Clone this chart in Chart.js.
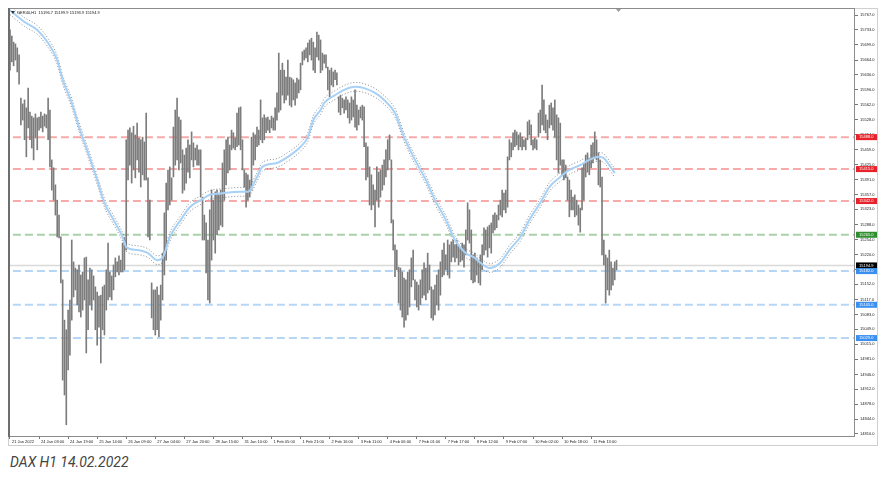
<!DOCTYPE html>
<html>
<head>
<meta charset="utf-8">
<script src="https://cdn.jsdelivr.net/npm/chart.js@4.4.1/dist/chart.umd.min.js"></script>
<style>
  html, body { margin: 0; padding: 0; background: #fff; }
  #wrap { position: absolute; left: 0; top: 0; width: 892px; height: 448px; }
  #caption { position: absolute; left: 10px; top: 454px; line-height: 16px;
             font: italic 14px Roboto, "Liberation Sans", sans-serif; color: #444; }
</style>
</head>
<body>
<div id="wrap"><canvas id="chart" width="892" height="448"></canvas></div>
<div id="caption">DAX H1 14.02.2022</div>
<script>
// H1 bars, oldest first (high / low)
const highs = [
  15733,15719,15705,15701,15692,15676,15577,15564,15573,15555,
  15600,15545,15536,15532,15541,15532,15534,15545,15536,15541,
  15539,15577,15550,15436,15418,15379,15344,15310,15260,15162,
  15070,15048,15093,15116,15253,15203,15189,15185,15196,15173,
  15180,15212,15214,15162,15189,15185,15171,15146,15134,15125,
  15127,15146,15150,15185,15246,15180,15171,15196,15212,15203,
  15217,15207,15246,15258,15482,15504,15509,15498,15513,15493,
  15520,15486,15482,15488,15477,15543,15395,15344,15155,15139,
  15139,15146,15127,15150,15223,15315,15383,15413,15420,15395,
  15511,15550,15577,15534,15527,15459,15447,15463,15482,15470,
  15500,15475,15463,15470,15459,15459,15351,15310,15292,15253,
  15322,15367,15344,15363,15367,15356,15367,15429,15459,15482,
  15488,15470,15504,15498,15486,15543,15555,15557,15482,15413,
  15406,15402,15390,15488,15498,15493,15511,15504,15573,15532,
  15539,15532,15534,15527,15536,15532,15555,15589,15680,15641,
  15657,15641,15625,15664,15625,15623,15619,15612,15623,15619,
  15657,15683,15687,15692,15703,15710,15714,15705,15692,15728,
  15721,15710,15680,15676,15676,15648,15641,15646,15637,15641,
  15635,15580,15584,15577,15573,15580,15573,15566,15580,15573,
  15596,15561,15550,15557,15561,15557,15475,15466,15420,15402,
  15379,15367,15420,15408,15413,15424,15436,15459,15482,15493,
  15436,15299,15242,15230,15191,15189,15180,15166,15162,15180,
  15185,15212,15230,15162,15157,15150,15162,15185,15201,15189,
  15223,15196,15146,15139,15150,15173,15185,15203,15230,15246,
  15219,15253,15242,15249,15253,15242,15253,15242,15235,15246,
  15242,15276,15338,15322,15276,15219,15223,15212,15207,15219,
  15242,15281,15276,15283,15287,15292,15310,15315,15310,15333,
  15344,15367,15360,15367,15443,15482,15475,15498,15504,15500,
  15493,15498,15488,15482,15486,15523,15527,15516,15482,15486,
  15482,15543,15550,15607,15573,15539,15527,15561,15566,15555,
  15573,15539,15532,15520,15436,15436,15424,15397,15390,15367,
  15351,15356,15344,15333,15326,15418,15429,15447,15452,15440,
  15470,15475,15500,15482,15452,15436,15397,15253,15219,15212,
  15230,15203,15189,15203,15207
];
const lows = [
  15641,15660,15651,15664,15637,15609,15516,15527,15482,15443,
  15509,15482,15463,15436,15486,15459,15504,15509,15500,15513,
  15509,15482,15420,15367,15344,15310,15260,15258,15155,14933,
  14899,14831,14956,14990,15070,15123,15139,15105,15089,15077,
  15093,15116,14995,15048,15105,15093,15116,15048,15013,15054,
  14972,15048,15036,15093,15116,15123,15116,15139,15169,15180,
  15173,15180,15180,15185,15230,15390,15424,15383,15413,15395,
  15436,15408,15374,15402,15390,15390,15260,15253,15075,15048,
  15036,15048,15032,15070,15116,15173,15207,15322,15333,15344,
  15397,15424,15436,15413,15429,15360,15367,15383,15408,15395,
  15436,15420,15436,15424,15424,15351,15253,15253,15178,15116,
  15109,15207,15253,15223,15265,15276,15287,15283,15344,15379,
  15406,15413,15459,15463,15459,15466,15470,15459,15413,15374,
  15328,15344,15351,15367,15424,15436,15466,15470,15482,15475,
  15482,15498,15504,15498,15509,15504,15504,15527,15545,15550,
  15584,15566,15573,15584,15561,15557,15573,15561,15577,15589,
  15596,15653,15664,15669,15660,15676,15664,15641,15635,15671,
  15664,15635,15641,15657,15646,15596,15580,15607,15603,15619,
  15607,15545,15539,15555,15543,15550,15532,15520,15527,15534,
  15511,15504,15516,15532,15527,15466,15390,15397,15333,15322,
  15333,15283,15344,15328,15351,15367,15379,15397,15413,15436,
  15292,15230,15169,15185,15109,15093,15077,15054,15070,15082,
  15100,15146,15162,15116,15100,15093,15105,15121,15127,15116,
  15132,15139,15075,15070,15082,15105,15093,15127,15169,15173,
  15185,15173,15166,15203,15214,15203,15212,15196,15203,15207,
  15191,15219,15253,15246,15162,15155,15157,15173,15155,15150,
  15185,15219,15230,15214,15235,15223,15269,15276,15281,15299,
  15310,15306,15322,15315,15328,15436,15443,15459,15466,15470,
  15459,15466,15459,15466,15459,15482,15493,15470,15459,15463,
  15459,15488,15498,15516,15504,15498,15482,15509,15516,15504,
  15488,15436,15406,15424,15402,15390,15395,15344,15306,15322,
  15322,15306,15310,15287,15271,15322,15344,15397,15408,15402,
  15418,15429,15440,15436,15379,15374,15219,15196,15109,15139,
  15127,15139,15150,15162,15185
];

// moving average envelope, read at these bar indices
const maIdx = [0,8,15,21,26,29,34,38,43,48,52,57,62,64,70,76,81,84,88,94,
  99,105,110,117,127,131,136,139,147,153,160,164,167,171,173,179,184,190,195,201,
  206,212,217,223,229,234,240,245,251,256,259,264,270,275,281,286,292,297,303,308,
  314,319,324,327,330,333];
const maMid = [15778,15751,15733,15703,15664,15619,15566,15511,15452,15390,
  15338,15299,15260,15237,15230,15223,15207,15212,15260,15299,
  15328,15344,15356,15360,15363,15363,15397,15420,15429,15443,
  15466,15488,15527,15550,15566,15584,15596,15603,15600,15589,
  15573,15543,15488,15436,15390,15344,15299,15253,15223,15212,
  15201,15189,15201,15230,15260,15299,15338,15374,15397,15413,
  15424,15436,15443,15440,15424,15406];
const maUpper = [15788,15761,15743,15713,15674,15629,15576,15521,15462,15400,
  15348,15309,15270,15247,15240,15233,15217,15222,15270,15309,
  15338,15354,15366,15370,15373,15373,15407,15430,15439,15453,
  15476,15498,15537,15560,15576,15594,15606,15613,15610,15599,
  15583,15553,15498,15446,15400,15354,15309,15263,15233,15222,
  15211,15199,15211,15240,15270,15309,15348,15384,15407,15423,
  15434,15446,15453,15450,15434,15416];
const maLower = [15768,15741,15723,15693,15654,15609,15556,15501,15442,15380,
  15328,15289,15250,15227,15220,15213,15197,15202,15250,15289,
  15318,15334,15346,15350,15353,15353,15387,15410,15419,15433,
  15456,15478,15517,15540,15556,15574,15586,15593,15590,15579,
  15563,15533,15478,15426,15380,15334,15289,15243,15213,15202,
  15191,15179,15191,15220,15250,15289,15328,15364,15387,15403,
  15414,15426,15433,15430,15414,15396];

// horizontal levels
const resistance = [15488, 15415, 15342];
const pivot = [15265];
const support = [15182, 15105, 15029];
const lastPrice = 15194.9;

const xTickIdx = [0,16,32,48,64,80,96,112,128,144,160,176,192,208,224,240,256,272,288,304,320];
const xTickLabels = ["21 Jan 2022","24 Jan 03:00","24 Jan 19:00","25 Jan 14:00","26 Jan 09:00",
  "27 Jan 04:00","27 Jan 20:00","28 Jan 15:00","31 Jan 10:00","1 Feb 05:00","1 Feb 21:00",
  "2 Feb 16:00","3 Feb 11:00","4 Feb 06:00","7 Feb 01:00","7 Feb 17:00","8 Feb 12:00",
  "9 Feb 07:00","10 Feb 02:00","10 Feb 18:00","11 Feb 13:00"];
const yTicks = [15767,15733,15699,15664,15630,15596,15562,15528,15494,15459,15425,15391,
  15357,15323,15288,15254,15220,15186,15152,15117,15083,15049,15015,14981,14946,14912,
  14878,14844,14810];

const header = "GER40,H1  15196.7 15199.9 15193.9 15194.9";
const tinyFont = "'Liberation Sans', Arial, sans-serif";

function levelLine(v, color, dash, width){
  return {
    type: "line", data: [{x: -5, y: v}, {x: 470, y: v}],
    borderColor: color, borderWidth: width, borderDash: dash,
    pointRadius: 0, order: 5
  };
}

function maLine(ys, color, width, dash){
  return {
    type: "line", data: maIdx.map((x, k) => ({x, y: ys[k]})),
    borderColor: color, borderWidth: width, borderDash: dash || [],
    pointRadius: 0, cubicInterpolationMode: "monotone", order: 1
  };
}

const tags = [
  ...resistance.map(v => [v, "#e8222a"]),
  ...pivot.map(v => [v, "#2f8f2f"]),
  [lastPrice, "#000000"],
  ...support.map(v => [v, "#3b8ff0"])
];

const decor = {
  id: "decor",
  afterDraw(chart){
    const {ctx, chartArea: a, scales: {y}} = chart;
    ctx.save();
    // window frame
    ctx.strokeStyle = "#cfcfcf"; ctx.lineWidth = 1;
    ctx.strokeRect(8.5, 8.5, 869, 437);
    // plot frame
    ctx.strokeStyle = "#8c8c8c";
    ctx.strokeRect(a.left + 0.5, a.top + 0.5, a.width - 1, a.height - 1);
    ctx.fillStyle = "#6e6e6e";
    ctx.fillRect(a.left, a.top, 2, a.height);
    // price tags on the axis
    ctx.font = "4px " + tinyFont;
    ctx.textBaseline = "middle";
    ctx.textAlign = "left";
    for(const [v, c] of tags){
      const py = y.getPixelForValue(v);
      ctx.fillStyle = c;
      ctx.fillRect(856, py - 3, 21, 6);
      ctx.fillStyle = "#fff";
      ctx.fillText(v.toFixed(1), 859, py);
    }
    // header
    ctx.fillStyle = "#333";
    ctx.beginPath();
    ctx.moveTo(11, 11); ctx.lineTo(15, 11); ctx.lineTo(13, 14); ctx.closePath(); ctx.fill();
    ctx.fillStyle = "#111";
    ctx.fillText(header, 17, 13);
    // shift marker
    ctx.fillStyle = "#9a9a9a";
    ctx.beginPath();
    ctx.moveTo(616, 9); ctx.lineTo(621, 9); ctx.lineTo(618.5, 12); ctx.closePath(); ctx.fill();
    ctx.restore();
  }
};

const datasets = [
  ...resistance.map(v => levelLine(v, "#f6aaaa", [8, 4], 2)),
  ...pivot.map(v => levelLine(v, "#a9d2a9", [8, 4], 2)),
  ...support.map(v => levelLine(v, "#b7d6f6", [8, 4], 2)),
  levelLine(lastPrice, "#d9d9d9", [], 1.5),
  {
    type: "bar",
    data: highs.map((h, i) => ({x: i, y: [lows[i], h]})),
    backgroundColor: "#7c7c7c",
    barThickness: 1,
    grouped: false,
    order: 3
  },
  maLine(maMid, "#a8d1f6", 2),
  maLine(maUpper, "#6a6f78", 0.8, [1, 2]),
  maLine(maLower, "#6a6f78", 0.8, [1, 2])
];

new Chart(document.getElementById("chart").getContext("2d"), {
  type: "bar",
  data: {datasets},
  plugins: [decor],
  options: {
    responsive: false,
    animation: false,
    devicePixelRatio: 1,
    layout: {padding: {left: 8, top: 8, right: 0, bottom: 0}},
    plugins: {legend: {display: false}, tooltip: {enabled: false}},
    scales: {
      x: {
        type: "linear", min: -1.1, max: 465.3, offset: false,
        grid: {drawOnChartArea: false, tickLength: 2, color: "#777", offset: false},
        border: {display: false},
        afterBuildTicks: s => { s.ticks = xTickIdx.map(v => ({value: v})); },
        afterFit: s => { s.height = 11; },
        ticks: {
          autoSkip: false, maxRotation: 0, minRotation: 0, align: "start",
          padding: 0, labelOffset: 2, color: "#222",
          font: {size: 4, family: tinyFont},
          callback: v => xTickLabels[xTickIdx.indexOf(v)]
        }
      },
      y: {
        position: "right", min: 14803, max: 15783,
        grid: {drawOnChartArea: false, tickLength: 3, color: "#777"},
        border: {display: false},
        afterBuildTicks: s => { s.ticks = yTicks.map(v => ({value: v})); },
        afterFit: s => { s.width = 37; },
        ticks: {
          padding: 2, color: "#222",
          font: {size: 4, family: tinyFont},
          callback: v => v.toFixed(1)
        }
      }
    }
  }
});
</script>
</body>
</html>
